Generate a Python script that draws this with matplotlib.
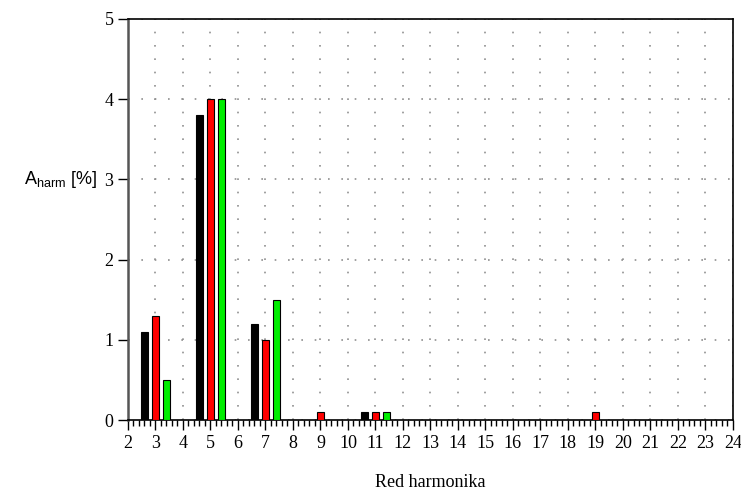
import matplotlib
matplotlib.use("Agg")
import matplotlib.pyplot as plt
from matplotlib.ticker import MultipleLocator
import numpy as np

# harmonic order and measured amplitudes (%) for three phases
harmonics = [3, 5, 7, 9, 11, 19]
phase_black = [1.1, 3.8, 1.2, 0.0, 0.1, 0.0]
phase_red = [1.3, 4.0, 1.0, 0.1, 0.1, 0.1]
phase_green = [0.5, 4.0, 1.5, 0.0, 0.1, 0.0]

plt.rcParams['mathtext.fontset'] = 'custom'
plt.rcParams['mathtext.rm'] = 'Liberation Sans'

fig = plt.figure(figsize=(7.41, 4.93), dpi=100)
ax = fig.add_axes([0.1727, 0.148, 0.8163, 0.8135])

x = np.array(harmonics, dtype=float)
w = 0.26
for off, vals, col in [(-0.4, phase_black, 'black'),
                       (0.0, phase_red, '#ff0000'),
                       (0.4, phase_green, '#00ee00')]:
    v = np.array(vals)
    m = v > 0
    ax.bar(x[m] + off, v[m], width=w, color=col, edgecolor='black',
           linewidth=0.8, zorder=3)

ax.set_xlim(2, 24)
ax.set_ylim(0, 5)
ax.xaxis.set_major_locator(MultipleLocator(1))
ax.xaxis.set_minor_locator(MultipleLocator(0.2))
ax.yaxis.set_major_locator(MultipleLocator(1))

ax.grid(True, which='major', color='#909090', linestyle=(0, (1, 7)),
        linewidth=1.2, zorder=0)

ax.tick_params(axis='both', which='major', direction='out', length=7,
               width=1, labelsize=13)
ax.tick_params(axis='x', which='minor', direction='out', length=4, width=1)
for lab in ax.get_xticklabels() + ax.get_yticklabels():
    lab.set_fontfamily('Liberation Serif')

for s in ['top', 'right', 'bottom']:
    ax.spines[s].set_color('black')
    ax.spines[s].set_linewidth(1.2)
ax.spines['left'].set_color('#555555')
ax.spines['left'].set_linewidth(1.8)

ax.set_xlabel('Red harmonika', fontfamily='Liberation Serif', fontsize=13)
ax.xaxis.set_label_coords(0.5, -0.135)
ax.set_ylabel(r'A$_{\mathrm{harm}}$ [%]', fontfamily='Liberation Sans',
              fontsize=13, rotation=0, va='center', ha='center')
ax.yaxis.set_label_coords(-0.111, 0.6)

fig.savefig('out.png', dpi=100)
